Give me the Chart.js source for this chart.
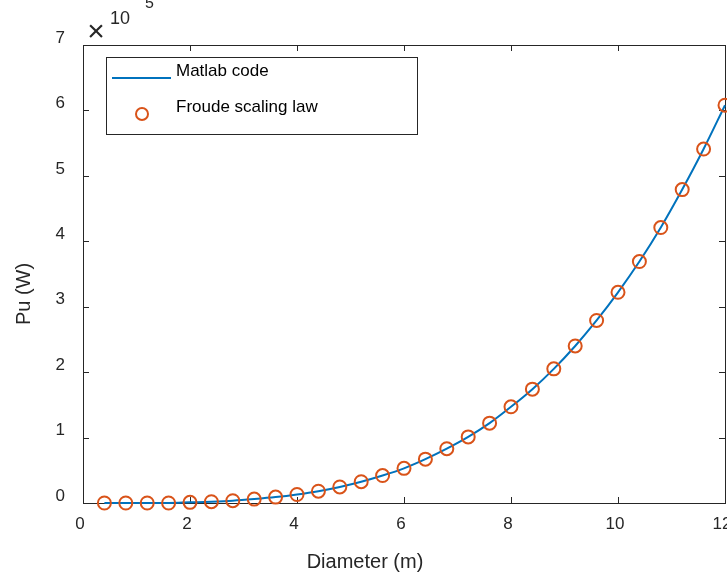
<!DOCTYPE html>
<html>
  <head>
    <meta charset="utf-8">
    <title>Pu vs Diameter</title>
    <script src="https://cdn.jsdelivr.net/npm/chart.js@4/dist/chart.umd.min.js"></script>
    <style>
      html, body { margin: 0; padding: 0; background: #fff; overflow: hidden; }
      #wrap { width: 727px; height: 576px; overflow: hidden; }
    </style>
  </head>
  <body>
    <div id="wrap"><canvas id="chart1" width="737" height="576"></canvas></div>
    <script>
      // diameter (m)
      var diameters = [0.4, 0.8, 1.2, 1.6, 2.0, 2.4, 2.8, 3.2, 3.6, 4.0,
                       4.4, 4.8, 5.2, 5.6, 6.0, 6.4, 6.8, 7.2, 7.6, 8.0,
                       8.4, 8.8, 9.2, 9.6, 10.0, 10.4, 10.8, 11.2, 11.6, 12.0];
      // power, in units of 1e5 W
      var matlabPower = [0.00, 0.00, 0.00, 0.00, 0.01, 0.02, 0.035, 0.06, 0.09, 0.13,
                         0.18, 0.245, 0.325, 0.42, 0.53, 0.67, 0.83, 1.01, 1.22, 1.47,
                         1.74, 2.05, 2.40, 2.79, 3.22, 3.69, 4.21, 4.79, 5.41, 6.08];
      var froudePower = [0.00, 0.00, 0.00, 0.00, 0.01, 0.02, 0.035, 0.06, 0.09, 0.13,
                         0.18, 0.245, 0.325, 0.42, 0.53, 0.67, 0.83, 1.01, 1.22, 1.47,
                         1.74, 2.05, 2.40, 2.79, 3.22, 3.69, 4.21, 4.79, 5.41, 6.08];
      var xTicks = [0, 2, 4, 6, 8, 10, 12];
      var yTicks = [0, 1, 2, 3, 4, 5, 6, 7];
      var yExponent = '5';
      var xTitle = 'Diameter (m)';
      var yTitle = 'Pu (W)';

      var FONT = '"Liberation Sans", Arial, Helvetica, sans-serif';
      var AXIS = '#262626';
      var BLUE = '#0072BD';
      var ORANGE = '#D95319';

      function pts(xs, ys){
        var out = [];
        for(var i = 0; i < xs.length; i++) out.push({x: xs[i], y: ys[i]});
        return out;
      }

      // box, inward ticks, axis titles, x10^5 note and the legend
      var matlabLook = {
        id: 'matlabLook',
        beforeDatasetsDraw: function(chart){
          var ctx = chart.ctx, a = chart.chartArea;
          var xs = chart.scales.x, ys = chart.scales.y;
          var tl = 6;
          ctx.save();
          ctx.strokeStyle = AXIS;
          ctx.lineWidth = 1;
          ctx.beginPath();
          xTicks.forEach(function(v){
            var px = Math.round(xs.getPixelForValue(v)) + 0.5;
            ctx.moveTo(px, a.bottom); ctx.lineTo(px, a.bottom - tl);
            ctx.moveTo(px, a.top); ctx.lineTo(px, a.top + tl);
          });
          yTicks.forEach(function(v){
            var py = Math.round(ys.getPixelForValue(v)) + 0.5;
            ctx.moveTo(a.left, py); ctx.lineTo(a.left + tl, py);
            ctx.moveTo(a.right, py); ctx.lineTo(a.right - tl, py);
          });
          ctx.stroke();
          ctx.strokeRect(Math.round(a.left) + 0.5, Math.round(a.top) + 0.5,
                         Math.round(a.right - a.left), Math.round(a.bottom - a.top));
          ctx.restore();
        },
        afterDraw: function(chart){
          var ctx = chart.ctx;
          var ds = chart.data.datasets;
          ctx.save();
          // axis titles
          ctx.fillStyle = AXIS;
          ctx.font = '20px ' + FONT;
          ctx.textAlign = 'center';
          ctx.textBaseline = 'middle';
          ctx.fillText(xTitle, 365, 562);
          ctx.save();
          ctx.translate(29.5, 294);
          ctx.rotate(-Math.PI / 2);
          ctx.textBaseline = 'alphabetic';
          ctx.fillText(yTitle, 0, 0);
          ctx.restore();

          // exponent
          ctx.textAlign = 'center';
          ctx.textBaseline = 'alphabetic';
          ctx.font = '30px ' + FONT;
          ctx.fillText('\u00d7', 96, 41);
          ctx.textBaseline = 'middle';
          ctx.textAlign = 'left';
          ctx.font = '18px ' + FONT;
          ctx.fillText('10', 110, 19);
          ctx.font = '16px ' + FONT;
          ctx.fillText(yExponent, 145, 4);

          // legend
          ctx.fillStyle = '#fff';
          ctx.fillRect(106.5, 57.5, 311, 77);
          ctx.strokeStyle = AXIS;
          ctx.lineWidth = 1;
          ctx.strokeRect(106.5, 57.5, 311, 77);
          ctx.strokeStyle = BLUE;
          ctx.lineWidth = 2;
          ctx.beginPath();
          ctx.moveTo(112, 78); ctx.lineTo(171, 78);
          ctx.stroke();
          ctx.strokeStyle = ORANGE;
          ctx.beginPath();
          ctx.arc(142, 114, 6, 0, Math.PI * 2);
          ctx.stroke();
          ctx.fillStyle = '#000';
          ctx.font = '17px ' + FONT;
          ctx.fillText(ds[0].label, 176, 71);
          ctx.fillText(ds[1].label, 176, 107.5);
          ctx.restore();
        }
      };

      var ctx1 = document.getElementById('chart1').getContext('2d');
      new Chart(ctx1, {
        type: 'scatter',
        data: {
          datasets: [
            {
              label: 'Matlab code',
              data: pts(diameters, matlabPower),
              showLine: true,
              borderColor: BLUE,
              borderWidth: 2,
              pointRadius: 0,
              cubicInterpolationMode: 'monotone',
              clip: false,
              order: 2
            },
            {
              label: 'Froude scaling law',
              data: pts(diameters, froudePower),
              showLine: false,
              pointRadius: 6.5,
              pointBorderWidth: 2,
              pointBorderColor: ORANGE,
              pointBackgroundColor: 'rgba(0,0,0,0)',
              clip: false,
              order: 1
            }
          ]
        },
        options: {
          responsive: false,
          animation: false,
          devicePixelRatio: 1,
          layout: {padding: {top: 45, right: 12, left: 0, bottom: 0}},
          plugins: {legend: {display: false}, tooltip: {enabled: false}},
          scales: {
            x: {
              type: 'linear', min: 0, max: 12,
              grid: {display: false}, border: {display: false},
              ticks: {stepSize: 2, autoSkip: false, maxRotation: 0, padding: 3, labelOffset: -3, color: AXIS, font: {family: FONT, size: 17}},
              title: {display: false},
              afterFit: function(s){ s.height = 73; s.paddingLeft = 0; s.paddingRight = 0; }
            },
            y: {
              type: 'linear', min: 0, max: 7,
              grid: {display: false}, border: {display: false},
              ticks: {stepSize: 1, autoSkip: false, padding: 10, labelOffset: -7, color: AXIS, font: {family: FONT, size: 17}},
              title: {display: false},
              afterFit: function(s){ s.width = 83; s.paddingTop = 0; s.paddingBottom = 0; }
            }
          }
        },
        plugins: [matlabLook]
      });
    </script>
  </body>
</html>
